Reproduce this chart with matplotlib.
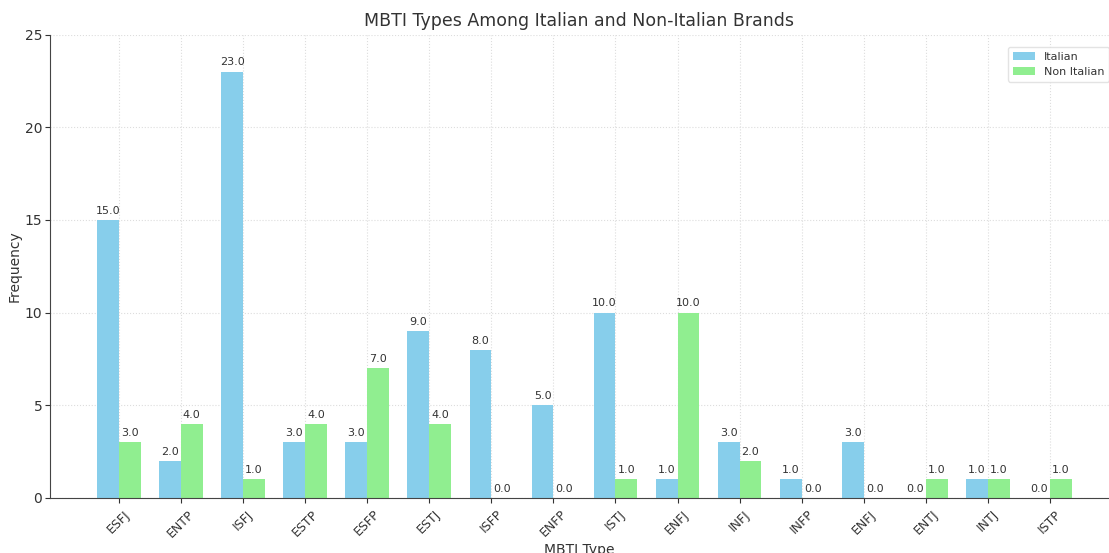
import matplotlib.pyplot as plt
import numpy as np

types = ["ESFJ", "ENTP", "ISFJ", "ESTP", "ESFP", "ESTJ", "ISFP", "ENFP",
         "ISTJ", "ENFJ", "INFJ", "INFP", "ENFJ", "ENTJ", "INTJ", "ISTP"]
italian = [15, 2, 23, 3, 3, 9, 8, 5, 10, 1, 3, 1, 3, 0, 1, 0]
non_italian = [3, 4, 1, 4, 7, 4, 0, 0, 1, 10, 2, 0, 0, 1, 1, 1]

plt.rcParams["text.color"] = "#333333"
plt.rcParams["axes.labelcolor"] = "#333333"
plt.rcParams["xtick.color"] = "#333333"
plt.rcParams["ytick.color"] = "#333333"

fig = plt.figure(figsize=(11.09, 5.53), dpi=100)
ax = fig.add_axes([0.045, 0.0995, 0.955, 0.838])

x = np.arange(len(types))
w = 0.35
b1 = ax.bar(x - w / 2, italian, w, color="#87CEEB", label="Italian")
b2 = ax.bar(x + w / 2, non_italian, w, color="#90EE90", label="Non Italian")

for bars in (b1, b2):
    for r in bars:
        h = r.get_height()
        ax.annotate(f"{h:.1f}", (r.get_x() + r.get_width() / 2, h),
                    xytext=(0, 3), textcoords="offset points",
                    ha="center", va="bottom", fontsize=8, color="#333333")

ax.set_xlim(-1.11, 15.95)
ax.set_ylim(0, 25)
ax.set_xticks(x)
ax.set_xticklabels(types, rotation=45, fontsize=9)
ax.set_yticks([0, 5, 10, 15, 20, 25])
ax.tick_params(axis="y", labelsize=10, pad=2)
ax.set_xlabel("MBTI Type", fontsize=10, labelpad=2)
ax.set_ylabel("Frequency", fontsize=10, labelpad=2)
ax.set_title("MBTI Types Among Italian and Non-Italian Brands", fontsize=12.5, pad=6)
ax.grid(True, linestyle=":", color="#dddddd", linewidth=0.8)
ax.set_axisbelow(True)
for s in ("top", "right"):
    ax.spines[s].set_visible(False)
for s in ("left", "bottom"):
    ax.spines[s].set_color("#444444")
ax.legend(loc="upper right", fontsize=8, frameon=True, edgecolor="#dddddd",
          bbox_to_anchor=(1.005, 0.985))

fig.savefig("out.png", dpi=100)
